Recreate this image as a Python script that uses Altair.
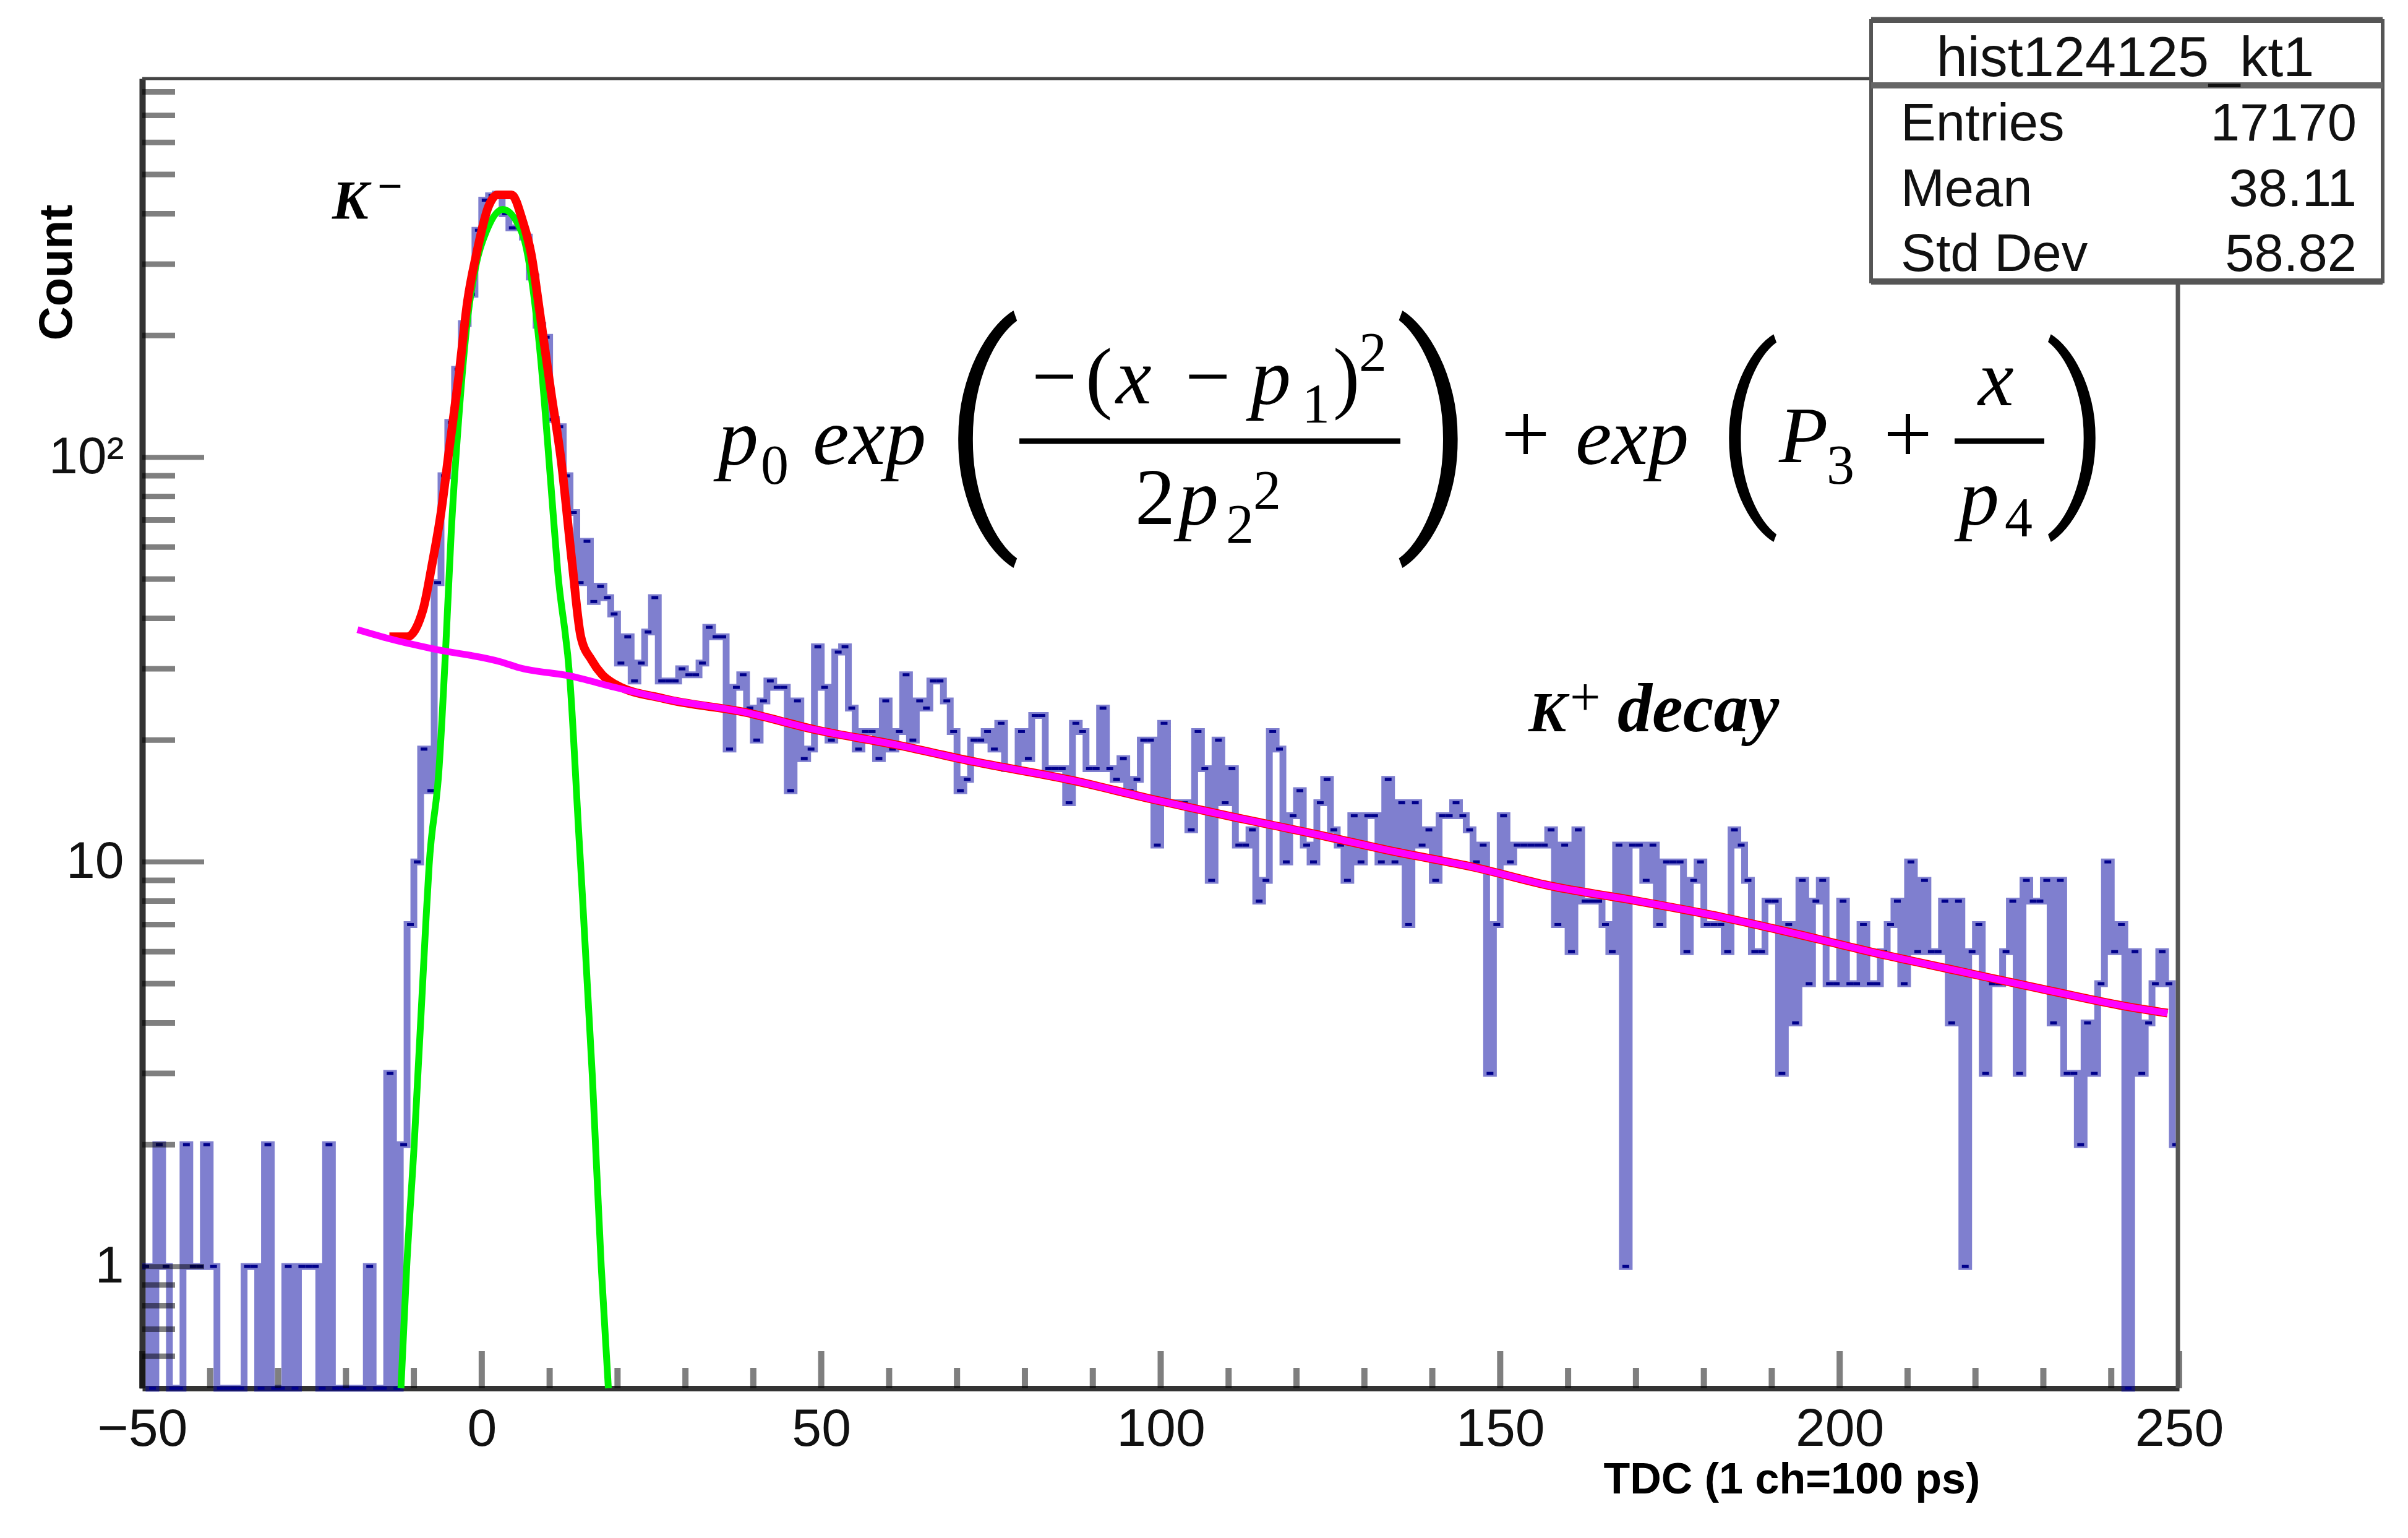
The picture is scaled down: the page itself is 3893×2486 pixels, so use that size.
import pandas as pd
import altair as alt

# counts per 1-unit TDC bin, first bin starts at -50
hist_counts = [
    1, 0, 2, 1, 0, 0, 2, 1, 1, 2,
    1, 0, 0, 0, 0, 1, 1, 0, 2, 0,
    0, 1, 0, 1, 1, 1, 0, 2, 0, 0,
    0, 0, 0, 1, 0, 0, 3, 0, 2, 7,
    10, 19, 15, 49, 90, 122, 165, 214, 253, 364,
    432, 443, 447, 400, 369, 369, 350, 279, 212, 198,
    124, 119, 90, 73, 49, 62, 44, 48, 45, 41,
    31, 36, 28, 31, 37, 45, 28, 28, 28, 30,
    29, 29, 31, 38, 36, 36, 19, 27, 29, 24,
    20, 25, 28, 27, 27, 15, 25, 18, 19, 34,
    27, 20, 33, 34, 24, 19, 21, 21, 18, 25,
    19, 21, 29, 20, 25, 24, 28, 28, 25, 21,
    15, 16, 20, 20, 21, 19, 22, 17, 17, 21,
    18, 23, 23, 17, 17, 17, 14, 22, 21, 17,
    17, 24, 17, 16, 18, 15, 16, 20, 20, 11,
    22, 14, 14, 14, 12, 21, 17, 9, 20, 14,
    17, 11, 11, 12, 8, 9, 21, 19, 10, 13,
    15, 11, 10, 14, 16, 12, 11, 9, 13, 10,
    13, 13, 10, 16, 10, 14, 7, 14, 11, 12,
    9, 13, 13, 14, 13, 12, 10, 11, 3, 7,
    13, 10, 11, 11, 11, 11, 11, 12, 7, 11,
    6, 12, 8, 8, 8, 7, 6, 11, 1, 11,
    11, 9, 11, 7, 10, 10, 10, 6, 9, 10,
    7, 7, 7, 6, 12, 11, 9, 6, 6, 8,
    8, 3, 7, 4, 9, 5, 8, 9, 5, 5,
    8, 5, 5, 7, 5, 5, 6, 7, 8, 5,
    10, 6, 9, 6, 6, 8, 4, 8, 1, 6,
    7, 3, 5, 5, 6, 8, 3, 9, 8, 8,
    9, 4, 9, 3, 3, 2, 4, 3, 5, 10,
    6, 7, 0, 6, 3, 4, 5, 6, 5, 2,
]

# gaussian part of the fit (green)
green_x = [-11.9, -11.05, -9.95, -8.25, -7.75, -6.3, -5.3, -4.5, -3.4, -2.1, -0.8, 0.75, 3.1,
           6.0, 7.3, 8.6, 10.2, 11.2, 13.0, 14.35, 14.8, 16.3, 17.6, 18.65]
green_y = [0.5, 1, 2, 7, 9.8, 16.9, 34, 65, 124, 219, 301, 364, 410,
           356, 279, 181, 85, 52, 28, 11.3, 8.4, 2.93, 1, 0.5]

# exponential part of the fit (magenta)
fit_x = [-18.3, -13.6, -7.1, 2.85, 5.5, 13.0, 19.6, 26.9, 38.9, 49.2, 60.8, 72.4, 87, 98.6,
         110.8, 122.9, 134.5, 146.1, 157.7, 169.4, 181, 192.6, 205.4, 217.6, 229.8, 242, 248.3]
fit_y = [37.5, 35.6, 33.6, 31.2, 30.2, 28.8, 27, 25.3, 23.4, 21.2, 19.5, 17.7, 15.9, 14.3,
         12.9, 11.7, 10.6, 9.7, 8.7, 8.05, 7.4, 6.7, 5.95, 5.37, 4.85, 4.4, 4.23]

# full fit (red), the tail runs under the magenta line
red_x = [-13.6, -11, -8.65, -7.35, -6, -4.75, -3.4, -2.1, -0.8, 1.0, 2.3, 4.4, 6.0, 7.3, 8.6,
         10.2, 11.7, 13.3, 14.6, 16.2, 17.75, 19.6] + fit_x[7:]
red_y = [36, 36, 42, 54, 73, 106, 158, 243, 317, 417, 445, 445, 385, 317, 225,
         145, 98, 55, 36, 31.5, 29, 27.5] + fit_y[7:]

x_major = [-50, 0, 50, 100, 150, 200, 250]
x_minor = [v for v in range(-50, 250, 10) if v % 50 != 0]
y_major = [1, 10, 100]
y_minor = [0.6, 0.7, 0.8, 0.9, 2, 3, 4, 5, 6, 7, 8, 9, 20, 30, 40, 50, 60, 70, 80, 90,
           200, 300, 400, 500, 600, 700, 800]

stats_names = ['Entries', 'Mean', 'Std Dev']
stats_values = ['17170', '38.11', '58.82']

LEFT, TOP = 230, 127
W, H = 3293, 2117
SERIF = 'Liberation Serif'
SANS = 'Liberation Sans'

x_scale = alt.Scale(domain=[-50, 250], nice=False, zero=False)
y_scale = alt.Scale(type='log', domain=[0.5, 863], nice=False)

edges = list(range(-50, 250))
floor = [max(c, 0.5) for c in hist_counts]
hist_df = pd.DataFrame({'x': edges + [250], 'y': floor + [floor[-1]]})
tops_df = pd.DataFrame({'x': edges, 'x2': [e + 1 for e in edges], 'y': floor})


def note(text, px, py, size, font=SERIF, style='italic', weight='normal', align='left', color='black'):
    # px, py are picture coordinates of the text's baseline
    return alt.Chart(pd.DataFrame({'t': [text]})).mark_text(
        font=font, fontSize=size, fontStyle=style, fontWeight=weight, align=align,
        baseline='alphabetic', color=color
    ).encode(x=alt.value(px - LEFT), y=alt.value(py - TOP), text='t:N')


def bar(x1, y1, x2, y2, width, color='black'):
    return alt.Chart(pd.DataFrame({'a': [0]})).mark_rule(color=color, strokeWidth=width).encode(
        x=alt.value(x1 - LEFT), x2=alt.value(x2 - LEFT), y=alt.value(y1 - TOP), y2=alt.value(y2 - TOP))


def curve(xs, ys, color, width):
    return alt.Chart(pd.DataFrame({'x': xs, 'y': ys})).mark_line(
        color=color, strokeWidth=width, strokeJoin='round', strokeCap='butt', interpolate='monotone'
    ).encode(x=alt.X('x:Q', scale=x_scale), y=alt.Y('y:Q', scale=y_scale))


# axis=None in any layer would switch the shared axis off, so only this layer sets it
hist_line = alt.Chart(hist_df).mark_line(
    interpolate='step-after', color='#0000a0', strokeWidth=11, strokeOpacity=0.5, strokeJoin='miter'
).encode(
    x=alt.X('x:Q', scale=x_scale, axis=alt.Axis(
        values=x_major, grid=False, ticks=False, domainWidth=9, domainColor='#333333',
        labelFont=SANS, labelFontSize=86, labelColor='#111111', labelPadding=24, labelFlush=False,
        labelExpr="datum.value < 0 ? '\u2212' + abs(datum.value) : datum.label",
        title='TDC (1 ch=100 ps)', titleFont=SANS, titleFontWeight='bold', titleFontSize=70,
        titleColor='black', titleAlign='left', titleBaseline='alphabetic', titleX=2362, titleY=169)),
    y=alt.Y('y:Q', scale=y_scale, axis=alt.Axis(
        values=y_major, grid=False, ticks=False, domainWidth=10, domainColor='#333333',
        labelFont=SANS, labelFontSize=84, labelColor='#111111', labelPadding=30,
        labelExpr="datum.value == 100 ? '10\u00b2' : datum.value == 10 ? '10' : '1'",
        title='Count', titleFont=SANS, titleFontWeight='bold', titleFontSize=76, titleColor='black',
        titleAngle=-90, titleAlign='center', titleBaseline='alphabetic', titleX=-115, titleY=313))
)

hist_tops = alt.Chart(tops_df).mark_rule(color='#00008b', strokeWidth=5).encode(
    x=alt.X('x:Q', scale=x_scale), x2='x2:Q', y=alt.Y('y:Q', scale=y_scale))

# inward ticks, half black so they darken over the histogram
x_ticks_major = alt.Chart(pd.DataFrame({'t': x_major})).mark_rule(color='black', opacity=0.5, strokeWidth=10).encode(
    x=alt.X('t:Q', scale=x_scale), y=alt.value(H), y2=alt.value(H - 60))
x_ticks_minor = alt.Chart(pd.DataFrame({'t': x_minor})).mark_rule(color='black', opacity=0.5, strokeWidth=10).encode(
    x=alt.X('t:Q', scale=x_scale), y=alt.value(H), y2=alt.value(H - 33))
y_ticks_major = alt.Chart(pd.DataFrame({'t': y_major})).mark_rule(color='black', opacity=0.5, strokeWidth=8).encode(
    y=alt.Y('t:Q', scale=y_scale), x=alt.value(0), x2=alt.value(100))
y_ticks_minor = alt.Chart(pd.DataFrame({'t': y_minor})).mark_rule(color='black', opacity=0.5, strokeWidth=9).encode(
    y=alt.Y('t:Q', scale=y_scale), x=alt.value(0), x2=alt.value(53))

# stats box
box = alt.Chart(pd.DataFrame({'a': [0]})).mark_rect(color='white', stroke='#555555', strokeWidth=6).encode(
    x=alt.value(3025 - LEFT), x2=alt.value(3852 - LEFT), y=alt.value(34 - TOP), y2=alt.value(455 - TOP))

PAREN = 'Roboto'

layers = [
    hist_line, hist_tops,
    x_ticks_major, x_ticks_minor, y_ticks_major, y_ticks_minor,
    curve(green_x, green_y, '#00f000', 11),
    curve(red_x, red_y, '#ff0000', 14),
    curve(fit_x, fit_y, '#ff00ff', 11),
    bar(LEFT, TOP, 3025, TOP, 5, '#444444'),
    bar(3521, 455, 3521, TOP + H, 7, '#555555'),
    box,
    bar(3025, 32, 3852, 32, 9, '#555555'),
    bar(3025, 138, 3852, 138, 10, '#666666'),
    bar(3025, 455, 3852, 455, 10, '#555555'),
    note('hist124125_kt1', 3436, 123, 90, SANS, 'normal', align='center', color='#111111'),
]
for name, val, base in zip(stats_names, stats_values, [227, 333, 438]):
    layers.append(note(name, 3073, base, 85, SANS, 'normal', color='#111111'))
    layers.append(note(val, 3810, base, 85, SANS, 'normal', align='right', color='#111111'))

# the formula, piece by piece
layers += [
    note('p', 1161, 750, 130),
    note('0', 1230, 782, 90, style='normal'),
    note('exp', 1314, 750, 132),
    note('(', 1586, 825, 405, PAREN, style='normal', weight=300, align='center'),
    note(')', 2321, 825, 405, PAREN, style='normal', weight=300, align='center'),
    note('\u2212', 1668, 652, 130, style='normal'),
    note('(', 1755, 652, 130, style='normal'),
    note('x', 1804, 652, 130),
    note('\u2212', 1916, 652, 130, style='normal'),
    note('p', 2022, 652, 130),
    note('1', 2105, 683, 90, style='normal'),
    note(')', 2155, 652, 130, style='normal'),
    note('2', 2197, 600, 90, style='normal'),
    bar(1648, 713, 2264, 713, 9),
    note('2', 1835, 847, 130, style='normal'),
    note('p', 1905, 847, 130),
    note('2', 1982, 878, 90, style='normal'),
    note('2', 2026, 823, 90, style='normal'),
    note('+', 2427, 748, 140, style='normal'),
    note('exp', 2547, 750, 132),
    note('(', 2825, 801, 327, PAREN, style='normal', weight=300, align='center'),
    note(')', 3359, 801, 327, PAREN, style='normal', weight=300, align='center'),
    note('P', 2876, 747, 130),
    note('3', 2953, 782, 90, style='normal'),
    note('+', 3045, 748, 140, style='normal'),
    bar(3160, 713, 3305, 713, 9),
    note('x', 3198, 655, 130),
    note('p', 3167, 847, 130),
    note('4', 3241, 867, 90, style='normal'),
    note('K', 537, 353, 88, weight='bold'),
    note('\u2212', 610, 325, 72, weight='bold', style='normal'),
    note('K', 2471, 1182, 92, weight='bold'),
    note('+', 2538, 1156, 88, weight='normal', style='normal'),
    note('decay', 2615, 1182, 112, weight='bold'),
]

chart = alt.layer(*layers).properties(
    width=W, height=H,
    padding={'left': LEFT - 8, 'top': TOP - 8, 'right': 340, 'bottom': 220},
    autosize=alt.AutoSizeParams(type='none'),
    background='white',
).configure_view(stroke=None)

chart.save("out.html", embed_options={"renderer": "svg", "actions": False})
